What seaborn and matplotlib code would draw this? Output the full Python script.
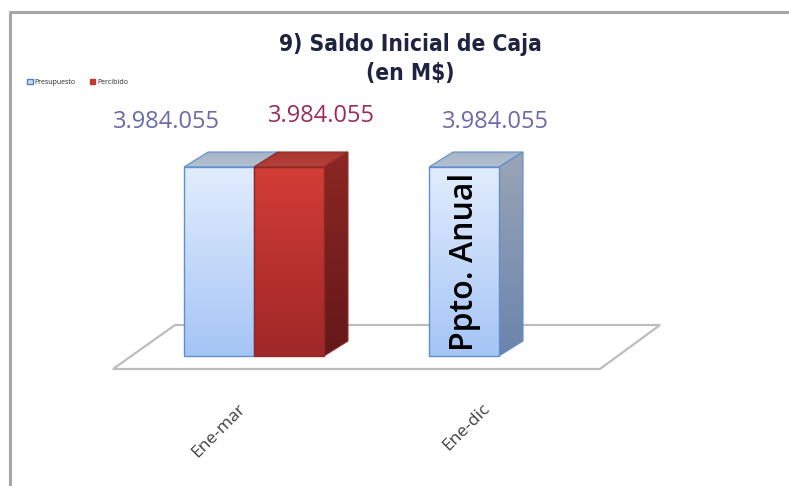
import numpy as np
import pandas as pd
import matplotlib
matplotlib.use('Agg')
import matplotlib.pyplot as plt
import seaborn as sns
from matplotlib.patches import Polygon, Patch
from matplotlib.lines import Line2D
from matplotlib.colors import LinearSegmentedColormap
import matplotlib.transforms as mtransforms

# ---------------- data ----------------
periodos = ['Ene-mar', 'Ene-mar', 'Ene-dic', 'Ene-dic']
series = ['Presupuesto', 'Percibido', 'Presupuesto', 'Percibido']
valores = [3984055, 3984055, 3984055, np.nan]
orden_periodos = ['Ene-mar', 'Ene-dic']
orden_series = ['Presupuesto', 'Percibido']
titulo = '9) Saldo Inicial de Caja\n(en M$)'
nota_anual = 'Ppto. Anual'

df = pd.DataFrame({'periodo': periodos, 'serie': series, 'valor': valores})

# ---------------- style ----------------
sns.set_theme(style='white')
plt.rcParams['font.family'] = ['Open Sans', 'DejaVu Sans']

W, H = 789, 486
fig = plt.figure(figsize=(W / 100, H / 100), dpi=100)
fig.patch.set_facecolor('white')


def fx(x):
    return x / W


def fy(y):
    return 1 - y / H


ax = fig.add_axes([fx(100), fy(380), 600 / W, 280 / H])
ax.set_facecolor('none')

front_base = {'Presupuesto': '#c9dcfa', 'Percibido': '#b8302d'}
sns.barplot(data=df, x='periodo', y='valor', hue='serie', order=orden_periodos,
            hue_order=orden_series, palette=front_base, width=0.571,
            ax=ax, legend=False, errorbar=None, saturation=1)

V = np.nanmax(valores)
px_x = 245.0          # pixels per category
px_y = 189.0 / V      # pixels per value unit
xlim = (-154 / px_x, -154 / px_x + 600 / px_x)
ylim = (-24 / px_y, 256 / px_y)

styles = {
    'Presupuesto': dict(front=['#e2edfd', '#a5c5f6'], side=['#9aa5b6', '#6b84ad'],
                        top=['#a6b4c6', '#b4c0d0'], edge='#5f8fd0',
                        label='#6b6aa9'),
    'Percibido': dict(front=['#d33d37', '#9f2727'], side=['#8c2724', '#651818'],
                      top=['#a8362f', '#b54039'], edge='#8e2a26',
                      label='#9c2b5b'),
}
label_shift = {('Presupuesto', 0): (-53, 45), ('Percibido', 0): (32, 51),
               ('Presupuesto', 1): (31, 45)}

dx = 24 / px_x
dy = 15 / px_y

# floor
floor = Polygon([(fx(113), fy(369)), (fx(175), fy(325)), (fx(660), fy(325)), (fx(600), fy(369))],
                closed=True, transform=fig.transFigure, facecolor='white',
                edgecolor='#bdbdbd', lw=1.6, zorder=1)
ax.add_patch(floor)


def grad_fill(patch_clip, extent, colors, z):
    cmap = LinearSegmentedColormap.from_list('g', colors[::-1])
    grad = np.linspace(0, 1, 100).reshape(-1, 1)
    im = ax.imshow(grad, extent=extent, origin='lower', cmap=cmap, aspect='auto',
                   zorder=z, interpolation='bicubic')
    im.set_clip_path(patch_clip)
    return im


bars = []
for si, cont in enumerate(ax.containers):
    for ci, p in enumerate(cont.patches):
        h = p.get_height()
        if np.isfinite(h) and h > 0:
            bars.append((p.get_x(), si, ci, p))
bars.sort(key=lambda b: b[0])

for k, (x0, si, ci, p) in enumerate(bars):
    sname = orden_series[si]
    st = styles[sname]
    h, w = p.get_height(), p.get_width()
    zb = 3 + 3 * k
    # side (behind the next bar's front)
    side = Polygon([(x0 + w, 0), (x0 + w + dx, dy), (x0 + w + dx, h + dy), (x0 + w, h)],
                   closed=True, facecolor='none', edgecolor=st['edge'], lw=0.8, zorder=zb + 1)
    ax.add_patch(side)
    grad_fill(side, [x0 + w, x0 + w + dx, 0, h + dy], st['side'], zb)
    # top
    top = Polygon([(x0, h), (x0 + dx, h + dy), (x0 + w + dx, h + dy), (x0 + w, h)],
                  closed=True, facecolor='none', edgecolor=st['edge'], lw=0.8, zorder=zb + 1)
    ax.add_patch(top)
    grad_fill(top, [x0, x0 + w + dx, h, h + dy], st['top'], zb)
    # front
    p.set_facecolor('none')
    p.set_edgecolor(st['edge'])
    p.set_linewidth(1.0)
    p.set_zorder(zb + 2.5)
    grad_fill(p, [x0, x0 + w, 0, h], st['front'], zb + 2)
    # value label
    txt = f"{h:,.0f}".replace(',', '.')
    ox, oy = label_shift.get((sname, ci), (0, 45))
    ax.annotate(txt, xy=(x0 + w / 2, h), xytext=(ox, oy), textcoords='offset pixels',
                ha='center', va='center', fontsize=17, color=st['label'], zorder=40)
    if sname == 'Presupuesto' and orden_periodos[ci] == 'Ene-dic':
        ax.text(x0 + w / 2, h / 2, nota_anual, rotation=90, ha='center', va='center',
                fontsize=23, fontweight='semibold', color='black', zorder=40)

ax.set_xlim(*xlim)
ax.set_ylim(*ylim)
for s in ax.spines.values():
    s.set_visible(False)
ax.set_yticks([])
ax.set_xlabel('')
ax.set_ylabel('')
ax.tick_params(axis='x', length=0, pad=15, labelsize=12.5, labelcolor='#404040')
for lab in ax.get_xticklabels():
    lab.set_rotation(45)
    lab.set_ha('right')
    lab.set_rotation_mode('anchor')
    lab.set_transform(lab.get_transform() + mtransforms.ScaledTranslation(-17 / 100, 0, fig.dpi_scale_trans))

# legend
handles = [Patch(facecolor='#c9dcfa', edgecolor='#4f81bd'), Patch(facecolor='#c0392b', edgecolor='#c0392b')]
fig.legend(handles, orden_series, loc='upper left', bbox_to_anchor=(fx(27), fy(79)), ncol=2,
           fontsize=5, frameon=False, handlelength=0.8, handleheight=0.8,
           columnspacing=2.0, handletextpad=0.3, borderaxespad=0, borderpad=0)

# title
fig.text(fx(410), fy(59), titulo, ha='center', va='center', fontsize=16.3, fontweight='bold',
         family=['DejaVu Sans'], fontstretch='condensed', color='#1d2340', linespacing=1.3)

# chart border
fig.add_artist(Line2D([fx(10), fx(10), 1], [0, fy(12), fy(12)], transform=fig.transFigure,
                      color='#a6a6a6', lw=2.2))

fig.savefig('out.png', dpi=100)
